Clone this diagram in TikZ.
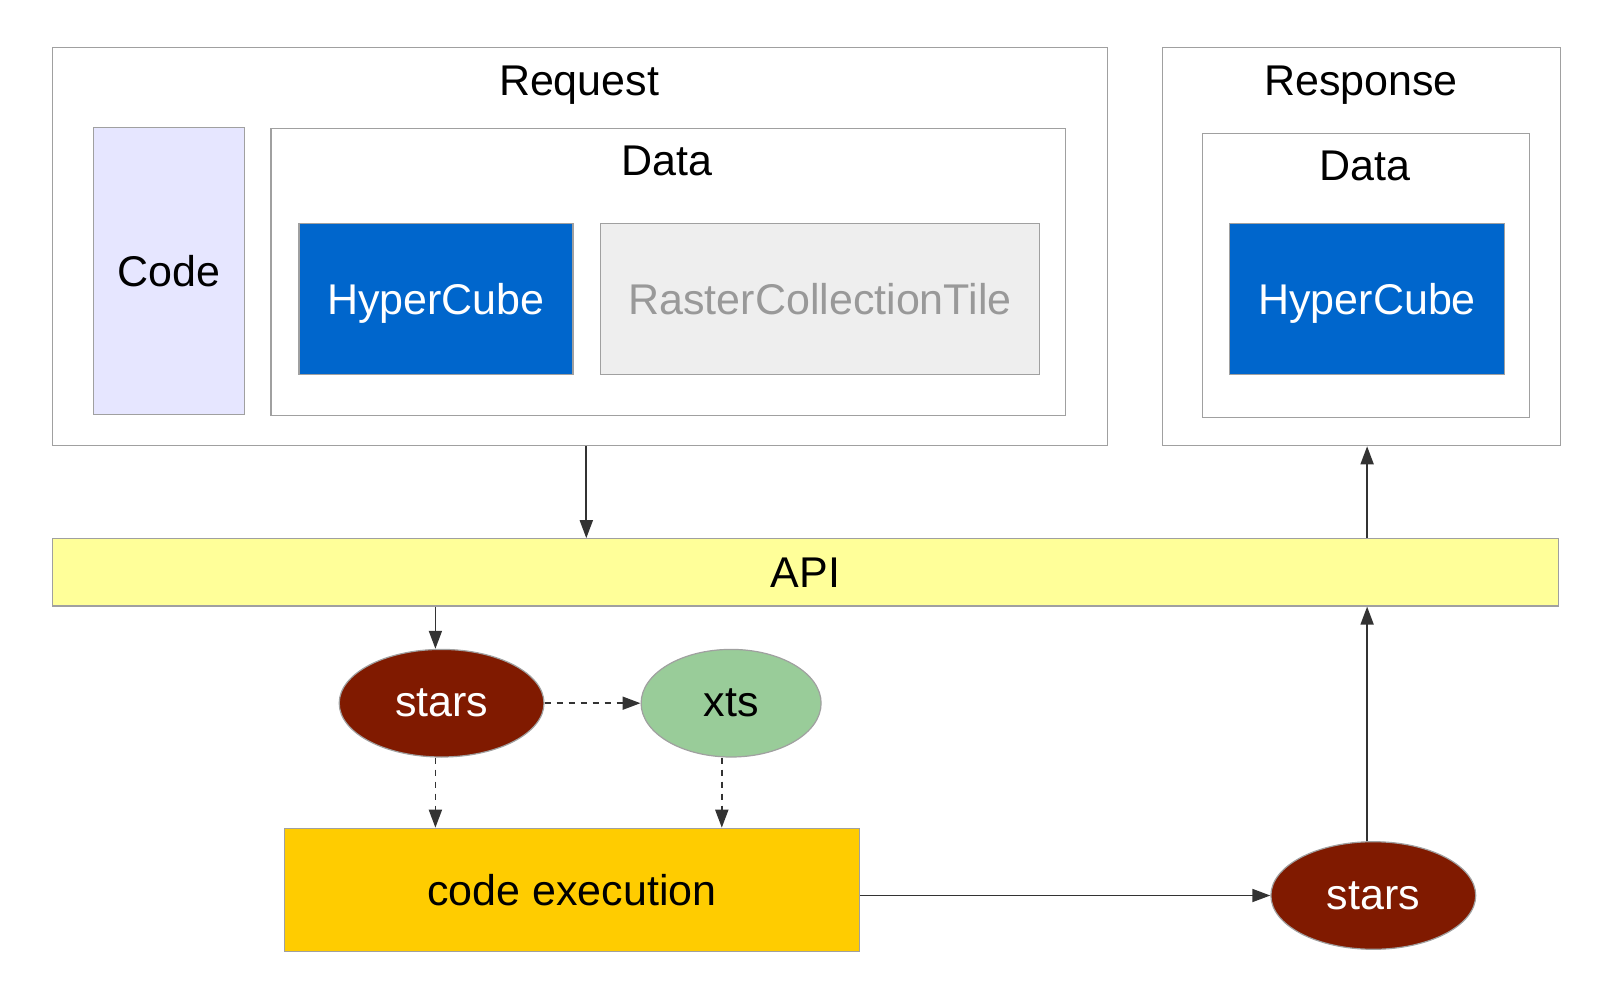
\documentclass[tikz,border=0pt]{standalone}
\usepackage{fontspec}
\setmainfont{Liberation Sans}
\usetikzlibrary{positioning, shapes.geometric, arrows.meta}
\definecolor{frame}{HTML}{A0A0A0}
\definecolor{cube}{HTML}{0066CC}
\definecolor{lav}{HTML}{E6E6FF}
\definecolor{tile}{HTML}{EEEEEE}
\definecolor{api}{HTML}{FFFF99}
\definecolor{rstars}{HTML}{801A00}
\definecolor{rxts}{HTML}{99CC99}
\definecolor{exec}{HTML}{FFCC00}
\begin{document}
\begin{tikzpicture}[x = 0.5pt, y = -0.5pt,
    every node/.style = { font = \fontsize{21.5}{26}\selectfont, inner sep = 0pt },
    box/.style = { draw = frame, line width = .6pt, shape = rectangle, fill = white },
    cube/.style = { box, fill = cube, text = white, text depth = 0pt, minimum width = 137pt, minimum height = 75.5pt },
    blob/.style = { draw = frame, line width = .6pt, shape = ellipse, minimum width = 102.4pt, minimum height = 53.8pt },
    flow/.style = { draw = black!80, line width = .9pt, -{Triangle[length = 9pt, width = 6.5pt]} }]
  \useasboundingbox (0,0) rectangle (1621,994);
  % request side
  \node [box, minimum width = 527.4pt, minimum height = 199.1pt] (request) at (580.1,246.6) {};
  \node (requestlbl) at (579.1,84.7) {Request};
  \node [box, fill = lav, minimum width = 75.5pt, minimum height = 143.7pt] (code) at (168.6,271) {Code};
  \node [box, minimum width = 397.1pt, minimum height = 143.7pt] (data) at (668,272) {};
  \node (datalbl) at (667,161.3) {Data};
  \node [cube] (cube) at (435.9,298.9) {HyperCube};
  \node [box, fill = tile, text = gray!80, minimum width = 219.2pt, minimum height = 75.5pt] (tile) at (820,298.9) {RasterCollectionTile};
  % response side
  \node [box, minimum width = 199.1pt, minimum height = 199.1pt] (response) at (1361.4,246.6) {};
  \node (responselbl) at (1360.9,84.7) {Response};
  \node [box, minimum width = 163.4pt, minimum height = 142.2pt] (rdata) at (1366,275.6) {};
  \node (rdatalbl) at (1365,166) {Data};
  \node [cube, minimum width = 137.5pt] (rcube) at (1367.1,298.9) {HyperCube};
  % api and processing
  \node [box, fill = api, minimum width = 752.8pt, minimum height = 33.6pt] (api) at (805.6,572.4) {API};
  \node [blob, fill = rstars, text = white] (stars) at (441.6,703.2) {stars};
  \node [blob, fill = rxts, minimum width = 90pt] (xts) at (731.1,703.2) {xts};
  \node [box, fill = exec, minimum width = 287.5pt, minimum height = 61.5pt] (exec) at (571.9,889.8) {code execution};
  \node [blob, fill = rstars, text = white] (rstars) at (1373.3,895.5) {stars};

  \draw [flow] (request.south -| 586.3,0) -- (api.north -| 586.3,0);
  \draw [flow] (api.north -| 1367.1,0) -- (response.south -| 1367.1,0);
  \draw [flow] (api.south -| 435.4,0) -- (stars.north -| 435.4,0);
  \draw [flow, dashed] (stars.east) -- (xts.west);
  \draw [flow, dashed] (stars.south -| 435.4,0) -- (exec.north -| 435.4,0);
  \draw [flow, dashed] (xts.south -| 721.8,0) -- (exec.north -| 721.8,0);
  \draw [flow] (exec.east |- rstars) -- (rstars.west);
  \draw [flow] (rstars.north -| 1367.1,0) -- (api.south -| 1367.1,0);
\end{tikzpicture}
\end{document}
